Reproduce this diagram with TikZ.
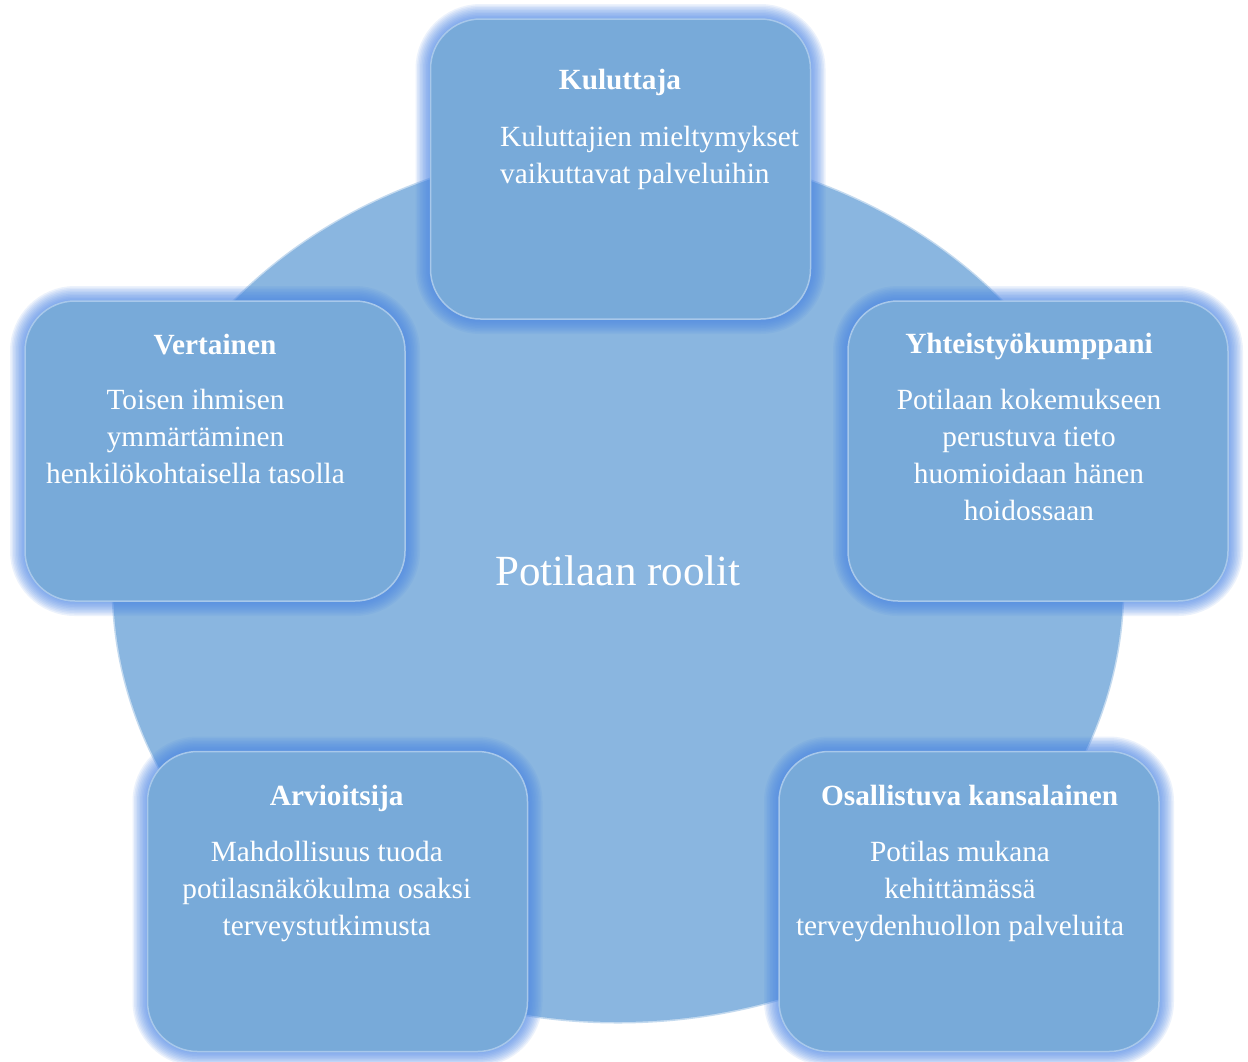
\documentclass[tikz,border=0pt]{standalone}
\usepackage{fontspec}
\setmainfont{Liberation Serif}
\usetikzlibrary{shapes.geometric}

\definecolor{discfill}{HTML}{8AB6E0}
\definecolor{boxfill}{HTML}{78AAD9}
\definecolor{boxline}{HTML}{A8C8EA}
\definecolor{glowblue}{HTML}{4A86E8}

\tikzset{
  rolebox/.style={rectangle, rounded corners=50pt, fill=boxfill, draw=boxline,
    line width=1.5pt, minimum width=380pt, minimum height=300pt,
    inner sep=0pt, outer sep=0pt},
  roletitle/.style={font=\fontsize{29.3}{36.7}\selectfont\bfseries, text=white,
    inner sep=0pt, anchor=base},
  % multi-line texts: the base anchor sits on the last line
  roletext/.style={font=\fontsize{29.3}{36.7}\selectfont, text=white,
    align=center, inner sep=0pt, anchor=base},
  glowring/.style={draw=glowblue, draw opacity=0.1, rounded corners=50pt},
}

\begin{document}
\begin{tikzpicture}[x=1pt, y=-1pt]
  \fill[white] (0,0) rectangle (1248,1061);
  \useasboundingbox (0,0) rectangle (1248,1061);

  % central disc
  \node (disc) [ellipse, fill=discfill, draw=discfill, draw opacity=0.5,
    line width=3pt, minimum width=1010pt, minimum height=874pt,
    inner sep=0pt] at (618,585) {};

  % role boxes (positions only; drawn after their glow)
  \path
    node (kul) [rolebox, draw=none, fill=none] at (620.5,169) {}
    node (ver) [rolebox, draw=none, fill=none] at (215,451) {}
    node (yht) [rolebox, draw=none, fill=none] at (1038,451) {}
    node (arv) [rolebox, draw=none, fill=none] at (337.5,901.5) {}
    node (osa) [rolebox, draw=none, fill=none] at (969,901.5) {};

  % soft glow around every box
  \foreach \b in {kul,ver,yht,arv,osa}{
    \foreach \w in {30,27,...,3}{
      \draw[glowring, line width=\w pt] (\b.south west) rectangle (\b.north east);
    }
  }

  % box faces
  \foreach \b in {kul,ver,yht,arv,osa}{
    \draw[rounded corners=50pt, fill=boxfill, draw=boxline, line width=1.5pt]
      (\b.south west) rectangle (\b.north east);
  }

  % centre label
  \node (centre) [font=\fontsize{43}{50}\selectfont, text=white, inner sep=0pt,
    anchor=base] at (618,585) {Potilaan roolit};

  % Kuluttaja
  \node (kult) [roletitle] at (620,89) {Kuluttaja};
  \node (kulb) [roletext, align=left, anchor=base west] at (500,183)
    {Kuluttajien mieltymykset\\vaikuttavat palveluihin};

  % Vertainen
  \node (vert) [roletitle] at (215,354) {Vertainen};
  \node (verb) [roletext] at (195.5,483)
    {Toisen ihmisen\\ymmärtäminen\\henkilökohtaisella tasolla};

  % Yhteistyökumppani
  \node (yhtt) [roletitle] at (1029,353) {Yhteistyökumppani};
  \node (yhtb) [roletext] at (1029,520)
    {Potilaan kokemukseen\\perustuva tieto\\huomioidaan hänen\\hoidossaan};

  % Arvioitsija
  \node (arvt) [roletitle] at (336.7,805) {Arvioitsija};
  \node (arvb) [roletext] at (326.8,935)
    {Mahdollisuus tuoda\\potilasnäkökulma osaksi\\terveystutkimusta};

  % Osallistuva kansalainen
  \node (osat) [roletitle] at (969.7,805) {Osallistuva kansalainen};
  \node (osab) [roletext] at (960,935)
    {Potilas mukana\\kehittämässä\\terveydenhuollon palveluita};
\end{tikzpicture}
\end{document}
